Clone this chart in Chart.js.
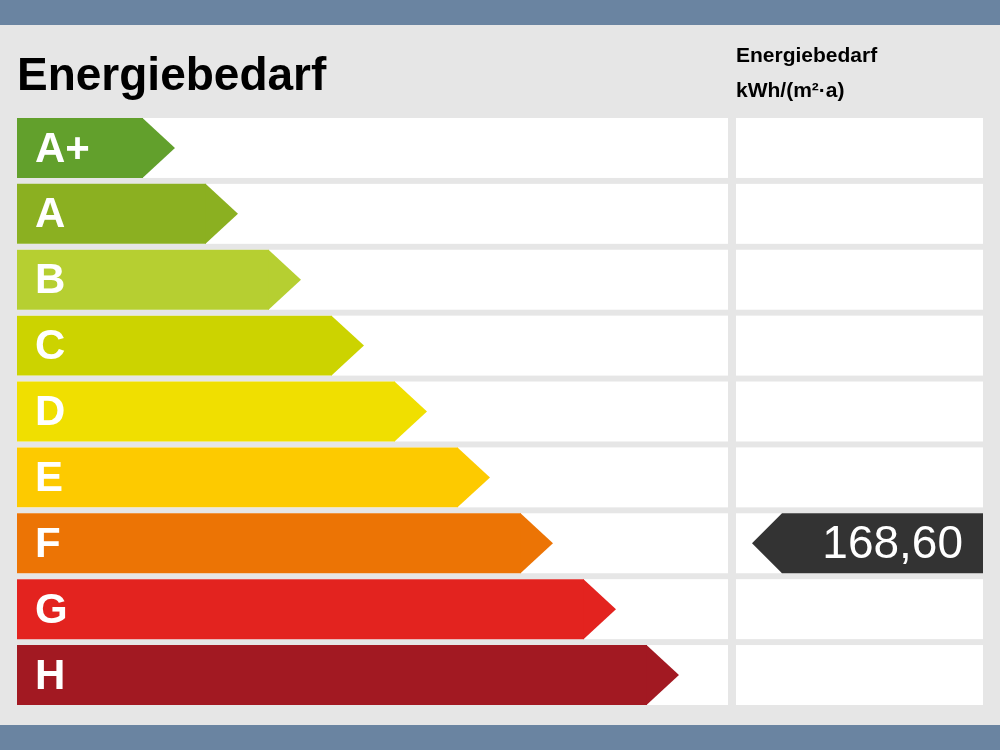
<!DOCTYPE html>
<html><head><meta charset="utf-8">
<script src="https://cdn.jsdelivr.net/npm/chart.js@4"></script>
<style>
html,body{margin:0;padding:0;background:#e6e6e6;width:1000px;height:750px;overflow:hidden;font-family:"Liberation Sans",Arial,sans-serif}
#top,#bot{position:absolute;left:0;width:1000px;background:#6a84a1}
#top{top:0;height:25px}#bot{top:725px;height:25px}
#wrap{position:absolute;left:0;top:0;width:1000px;height:750px}
</style></head><body>
<div id="top"></div><div id="bot"></div>
<div id="wrap"><canvas id="c" width="1000" height="750"></canvas></div>
<script>
const categories = ["A+","A","B","C","D","E","F","G","H"];
const classSteps = [2,3,4,5,6,7,8,9,10];
const colors = ["#62a02c","#8bb021","#b6cf31","#ccd300","#f0df00","#fdca00","#ec7405","#e3231f","#a21922"];
const valueCategory = "F";
const valueLabel = "168,60";
const title = "Energiebedarf";
const unitLines = ["Energiebedarf","kWh/(m²·a)"];

const FONT = '"Liberation Sans", Arial, sans-serif';
const plugin = {
  id:'label',
  beforeDatasetsDraw(chart){
    const ctx=chart.ctx, ys=chart.scales.y, a=chart.chartArea;
    const meta=chart.getDatasetMeta(0);
    ctx.save();
    ctx.fillStyle="#fff";
    meta.data.forEach(el=>{
      const h=el.height, t=el.y-h/2;
      ctx.fillRect(a.left,t,728-a.left,h);
      ctx.fillRect(736,t,a.right-736,h);
    });
    ctx.fillStyle="#000";ctx.font="bold 46px "+FONT;ctx.textBaseline="alphabetic";
    ctx.fillText(title,17,90);
    ctx.font="bold 21px "+FONT;
    ctx.fillText(unitLines[0],736,62);ctx.fillText(unitLines[1],736,97);
    ctx.restore();
  },
  afterDatasetsDraw(chart){
    const ctx=chart.ctx, a=chart.chartArea;
    const meta=chart.getDatasetMeta(0);
    ctx.save();
    meta.data.forEach((el,i)=>{
      const h=el.height, t=el.y-h/2;
      ctx.fillStyle=colors[i];
      ctx.beginPath();ctx.moveTo(el.x-0.5,t);ctx.lineTo(el.x+h/2+2,el.y);ctx.lineTo(el.x-0.5,t+h);ctx.closePath();ctx.fill();
      ctx.fillStyle="#fff";ctx.font="bold 42px "+FONT;ctx.textBaseline="middle";
      ctx.fillText(categories[i],35,el.y+2);
      if(categories[i]===valueCategory){
        const L=752,R=a.right;
        ctx.fillStyle="#333";
        ctx.beginPath();ctx.moveTo(L+h/2,t);ctx.lineTo(R,t);ctx.lineTo(R,t+h);ctx.lineTo(L+h/2,t+h);ctx.lineTo(L,el.y);ctx.closePath();ctx.fill();
        ctx.fillStyle="#fff";ctx.font="46px "+FONT;ctx.textAlign="right";
        ctx.fillText(valueLabel,R-20,el.y+2);ctx.textAlign="left";
      }
    });
    ctx.restore();
  }
};
new Chart(document.getElementById('c'),{
  type:'bar',
  data:{labels:categories,datasets:[{data:classSteps,backgroundColor:colors,barPercentage:0.91,categoryPercentage:1}]},
  options:{indexAxis:'y',responsive:false,animation:false,
    layout:{padding:{left:17,right:17,top:115,bottom:42}},
    plugins:{legend:{display:false},tooltip:{enabled:false}},
    scales:{x:{display:false,min:0,max:966/63},y:{display:false}}},
  plugins:[plugin]
});
</script></body></html>
